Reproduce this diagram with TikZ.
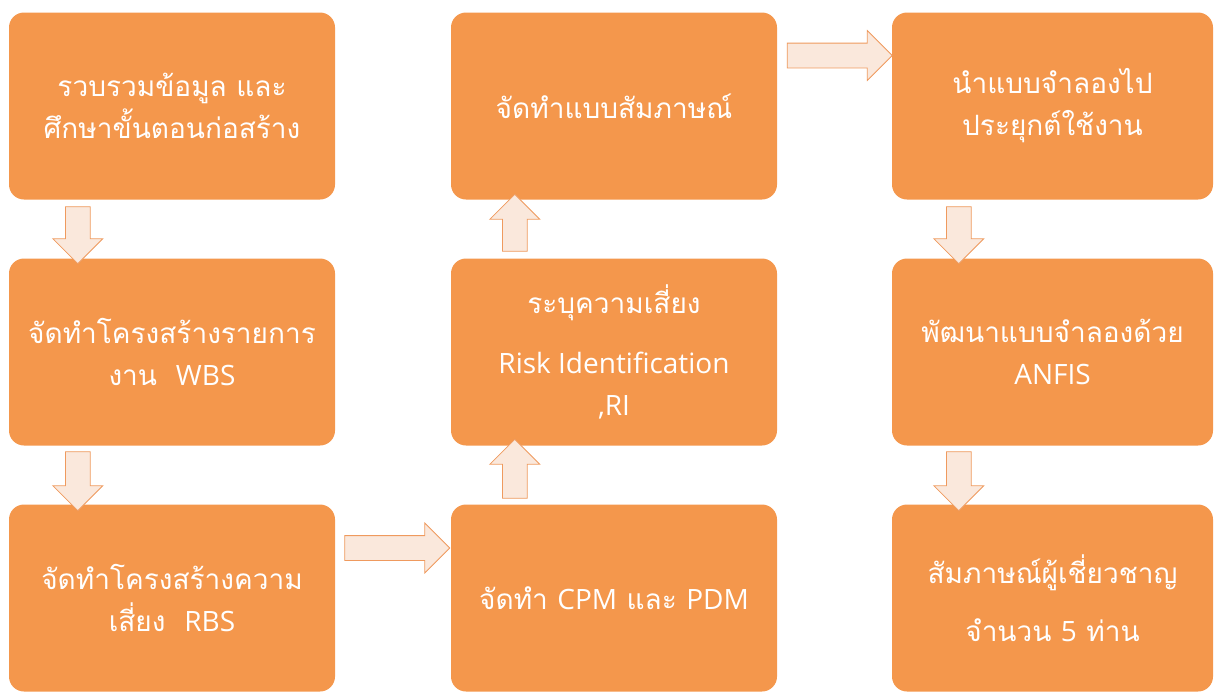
\documentclass[tikz,border=0pt]{standalone}
\usepackage{fontspec}
\newfontfamily\thaifont[Script=Thai]{Loma}
\newfontfamily\latinfont{Open Sans}
\newcommand{\lt}[1]{{\latinfont\fontsize{28}{42}\selectfont #1}}
\usetikzlibrary{shapes.arrows,calc}
\definecolor{boxor}{HTML}{F4974C}
\definecolor{arrfill}{HTML}{FAE8DC}
\definecolor{arrdraw}{HTML}{EF9A5E}
\begin{document}
\begin{tikzpicture}[x=1pt,y=-1pt,
  box/.style={rectangle, rounded corners=15pt, fill=boxor, draw=none, text=white,
    font=\thaifont\fontsize{28}{42}\selectfont, align=center, minimum height=187pt, inner sep=0pt},
  blk/.style={single arrow, fill=arrfill, draw=arrdraw, line width=0.8pt,
    inner xsep=0pt, inner ysep=12pt, single arrow head extend=12.5pt, minimum height=#1}]
\useasboundingbox (0,0) rectangle (1215,694);
% column 1
\node[box, minimum width=326pt] (b1) at (172,106) {รวบรวมข้อมูล และ\\ศึกษาขั้นตอนก่อสร้าง};
\node[box, minimum width=326pt] (b4) at (172,352) {จัดทำโครงสร้างรายการ\\งาน~~\lt{WBS}};
\node[box, minimum width=326pt] (b7) at (172,598) {จัดทำโครงสร้างความ\\เสี่ยง~~\lt{RBS}};
% column 2
\node[box, minimum width=326pt] (b2) at (614,106) {จัดทำแบบสัมภาษณ์};
\node[box, minimum width=326pt] (b5) at (614,352) {ระบุความเสี่ยง\\[18pt]\lt{Risk Identification}\\\lt{,RI}};
\node[box, minimum width=326pt] (b8) at (614,598) {จัดทำ \lt{CPM} และ \lt{PDM}};
% column 3
\node[box, minimum width=321pt] (b3) at (1052.5,106) {นำแบบจำลองไป\\ประยุกต์ใช้งาน};
\node[box, minimum width=321pt] (b6) at (1052.5,352) {พัฒนาแบบจำลองด้วย\\\lt{ANFIS}};
\node[box, minimum width=321pt] (b9) at (1052.5,598) {สัมภาษณ์ผู้เชี่ยวชาญ\\[16pt]จำนวน \lt{5} ท่าน};
% block arrows
\node[blk=57, rotate=-90] (a1) at ($(b1.south west)!0.5!(b4.north west)+(69,0)$) {};
\node[blk=59, rotate=-90] (a2) at ($(b4.south west)!0.5!(b7.north west)+(69,0)$) {};
\node[blk=105] (a3) at ($(b7.east)!0.5!(b8.west)+(-2,-50)$) {};
\node[blk=59, rotate=90] (a4) at ($(b5.south west)!0.5!(b8.north west)+(64,0)$) {};
\node[blk=57, rotate=90] (a5) at ($(b2.south west)!0.5!(b5.north west)+(64,0)$) {};
\node[blk=105] (a6) at ($(b2.east)!0.5!(b3.west)+(-1,-50.5)$) {};
\node[blk=57, rotate=-90] (a7) at ($(b3.south west)!0.5!(b6.north west)+(67,0)$) {};
\node[blk=59, rotate=-90] (a8) at ($(b6.south west)!0.5!(b9.north west)+(67,0)$) {};
\end{tikzpicture}
\end{document}
